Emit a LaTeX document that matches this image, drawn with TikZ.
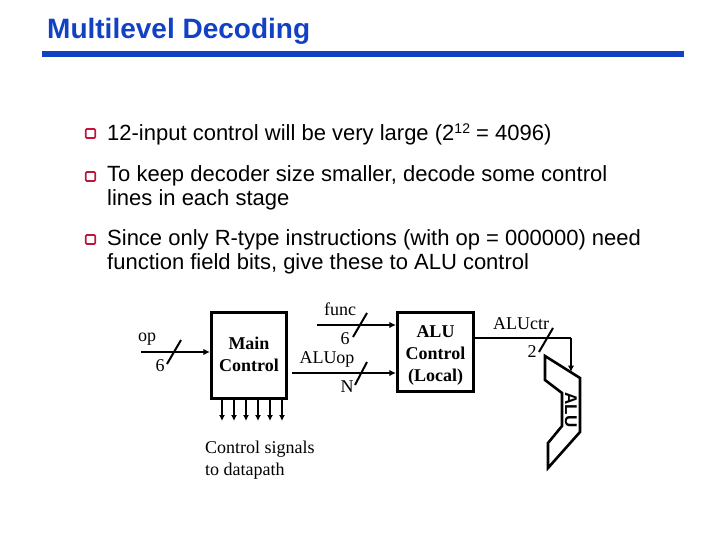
\documentclass[tikz,border=0pt]{standalone}
\usepackage{fontspec}
\setmainfont{Liberation Sans}
\newfontfamily\labelfont{Liberation Serif}
\usetikzlibrary{arrows.meta,positioning,calc}
\definecolor{titleblue}{HTML}{1241C4}
\definecolor{bulletred}{HTML}{C0143C}
\newcommand{\smallsup}[1]{\raisebox{7pt}{\fontsize{14}{14}\selectfont #1}}
\begin{document}
\begin{tikzpicture}[x=1pt,y=-1pt,node distance=12pt and 8pt]
    \tikzset{
      titletext/.style={anchor=west,inner sep=0pt,text=titleblue,font=\fontsize{28}{32}\selectfont\bfseries},
      bullettext/.style={anchor=north west,inner sep=0pt,align=left,font=\fontsize{22}{24}\selectfont},
      bulletbox/.style={draw=bulletred,fill=white,line width=1.7pt,rounded corners=1pt,minimum width=9.5pt,minimum height=9pt,inner sep=0pt},
      ctrl/.style={draw=black,line width=3.2pt,inner sep=0pt,align=center,font=\labelfont\bfseries\fontsize{18}{22}\selectfont},
      lbl/.style={inner sep=0pt,align=left,font=\labelfont\fontsize{18}{22}\selectfont},
      wire/.style={draw=black,line width=2.6pt},
      arrow/.style={-{Latex[length=6.5pt,width=6.5pt]},draw=black,line width=2.6pt},
      thin arrow/.style={-{Latex[length=6pt,width=6pt]},draw=black,line width=1.7pt},
      busmark/.style={draw=black,line width=2pt}
    }
    \useasboundingbox (0,0) rectangle (720,540);
    % title
    \node[titletext] (title) at (47,31) {Multilevel Decoding};
    \fill[titleblue] (42,51) rectangle (684,57);
    % bullets
    \node[bulletbox] (bulleta) at (90.5,133.5) {};
    \node[bulletbox] (bulletb) at (90.5,176.5) {};
    \node[bulletbox] (bulletc) at (90.5,239.5) {};
    \node[bullettext] (texta) at (107,124) {12-input control will be very large (2\smallsup{12} = 4096)};
    \node[bullettext] (textb) at (107,165) {To keep decoder size smaller, decode some control\\lines in each stage};
    \node[bullettext] (textc) at (107,229) {Since only R-type instructions (with op = 000000) need\\function field bits, give these to ALU control};
    % blocks
    \node[ctrl,minimum width=75pt,minimum height=86pt] (main) at (249,355.5) {Main\\Control\rule[-3pt]{0pt}{1pt}};
    \node[ctrl,minimum width=76pt,minimum height=79pt] (aluctl) at (435.5,352) {\rule{0pt}{18pt}ALU\\Control\\(Local)};
    % wire ends
    \coordinate (opin) at (141,352);
    \coordinate (funcin) at (317,325);
    \coordinate (aluopout) at ($(main.east |- 0,373)+(4,0)$);
    \coordinate (corner) at (571,338);
    \coordinate (alutop) at (571,372);
    \draw[arrow] (opin) -- (main.west |- opin);
    \draw[arrow] (funcin) -- (aluctl.west |- funcin);
    \draw[arrow] (aluopout) -- (aluctl.west |- aluopout);
    \draw[wire] (aluctl.east |- corner) -- (corner);
    \draw[arrow] (corner) -- (alutop);
    % bus marks
    \coordinate (opa) at (167,364);   \coordinate (opb) at (181,340);
    \coordinate (funca) at (353,337); \coordinate (funcb) at (367,313);
    \coordinate (aluopa) at (355,385); \coordinate (aluopb) at (367,362);
    \coordinate (ctra) at (539,352);  \coordinate (ctrb) at (553,328);
    \draw[busmark] (opa) -- (opb);
    \draw[busmark] (funca) -- (funcb);
    \draw[busmark] (aluopa) -- (aluopb);
    \draw[busmark] (ctra) -- (ctrb);
    % control signals
    \foreach \i/\x in {1/222,2/234,3/246,4/258,5/270,6/282} {
      \coordinate (sig\i) at (\x,421);
      \draw[thin arrow] (main.south -| sig\i) -- (sig\i);
    }
    % labels
    \node[lbl] (oplabel) at (147,339) {op};
    \node[lbl] (opsix) at (160,366) {6};
    \node[lbl] (funclabel) at (340,309) {func};
    \node[lbl] (funcsix) at (345,339) {6};
    \node[lbl] (aluoplabel) at (327,359) {ALUop};
    \node[lbl] (aluopn) at (347,387) {N};
    \node[lbl] (ctrlabel) at (521,324) {ALUctr};
    \node[lbl] (ctrtwo) at (532,352) {2};
    \node[lbl,anchor=north west] (signals) at (205,441) {Control signals\\to datapath};
    % ALU
    \draw[draw=black,line width=2.6pt,line join=miter] (545,356) -- (580,378) -- (580,432) -- (548,468) -- (548,443) -- (562,426) -- (562,393) -- (545,380) -- cycle;
    \node[rotate=-90,inner sep=0pt,font=\fontsize{17}{19}\selectfont\bfseries] (alulabel) at (571,410) {ALU};
  \end{tikzpicture}
\end{document}
